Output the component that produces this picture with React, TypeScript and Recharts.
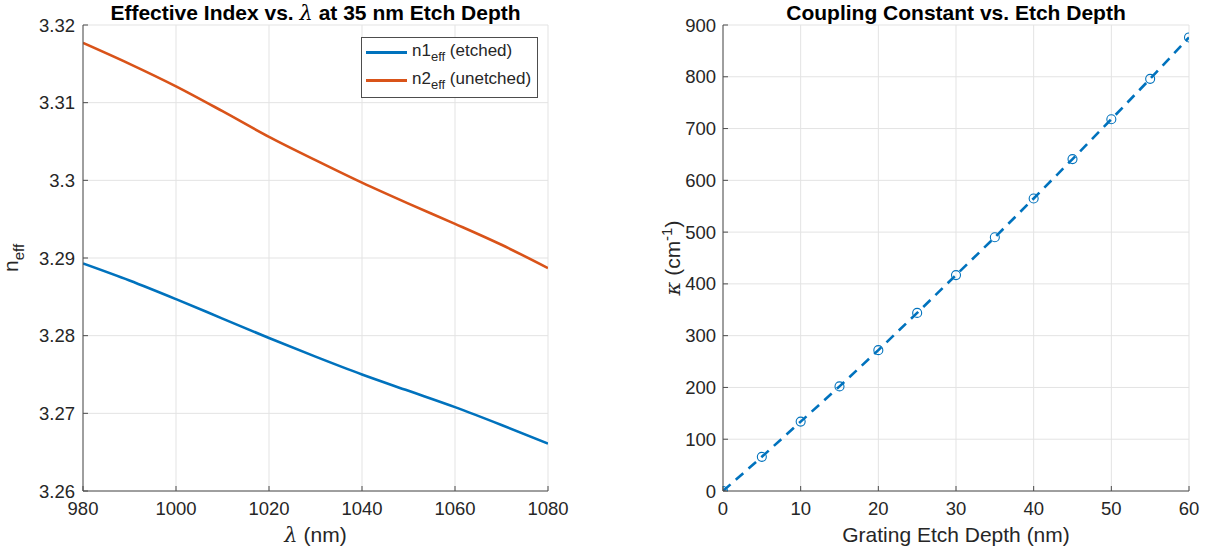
import React from "react";
import { LineChart, Line, XAxis, YAxis, CartesianGrid, Label } from "recharts";

// left panel: effective index vs wavelength (35 nm etch)
const wavelengths = [980, 990, 1000, 1010, 1020, 1030, 1040, 1050, 1060, 1070, 1080];
const n1Etched = [3.2893, 3.2871, 3.2847, 3.2822, 3.2797, 3.2773, 3.2750, 3.2729, 3.2708, 3.2685, 3.2661];
const n2Unetched = [3.3177, 3.3150, 3.3121, 3.3089, 3.3056, 3.3026, 3.2997, 3.2970, 3.2944, 3.2917, 3.2887];
const lambdaTicks = [980, 1000, 1020, 1040, 1060, 1080];
const neffTicks = [3.26, 3.27, 3.28, 3.29, 3.3, 3.31, 3.32];

// right panel: coupling constant vs etch depth
const etchDepths = [0, 5, 10, 15, 20, 25, 30, 35, 40, 45, 50, 55, 60];
const kappaValues = [0, 66, 134, 202, 272, 344, 417, 490, 565, 641, 718, 796, 876];
const depthTicks = [0, 10, 20, 30, 40, 50, 60];
const kappaTicks = [0, 100, 200, 300, 400, 500, 600, 700, 800, 900];

const BLUE = "#0072BD";
const ORANGE = "#D95319";
const AXIS = "#4d4d4d";
const TEXT = "#262626";
const GRID = "#e3e3e3";
const FONT = "'Liberation Sans', Arial, Helvetica, sans-serif";
const MATH = "'DejaVu Serif', 'Liberation Serif', serif";

const indexData = wavelengths.map((w, i) => ({ w, n1: n1Etched[i], n2: n2Unetched[i] }));
const kappaData = etchDepths.map((d, i) => ({ d, k: kappaValues[i] }));

const tickStyle = { fill: TEXT, fontSize: 18.5, fontFamily: FONT };

function OpenCircle(props: any) {
  const { cx, cy, index } = props;
  if (cx == null || cy == null) return null;
  return <circle key={`c-${index}`} cx={cx} cy={cy} r={4.5} fill="none" stroke={BLUE} strokeWidth={1.1} />;
}

const titleStyle: React.CSSProperties = {
  position: "absolute",
  top: 1,
  textAlign: "center",
  fontWeight: "bold",
  fontSize: 21,
  color: "#000",
  whiteSpace: "nowrap",
  lineHeight: "24px",
};

export default function App() {
  return (
    <div style={{ position: "absolute", left: 0, top: 0, width: 1207, height: 552, background: "#fff", fontFamily: FONT }}>
      {/* Left panel */}
      <div style={{ position: "absolute", left: 0, top: 0 }}>
        <LineChart width={600} height={552} data={indexData} margin={{ top: 25, right: 52, bottom: 0, left: 0 }}>
          <CartesianGrid stroke={GRID} strokeWidth={1} />
          <XAxis
            dataKey="w"
            type="number"
            domain={[980, 1080]}
            ticks={lambdaTicks}
            height={61}
            stroke={AXIS}
            tickSize={-5}
            tickMargin={16}
            tick={tickStyle}
            allowDataOverflow
          >
            <Label
              content={({ viewBox }: any) => (
                <text x={viewBox.x + viewBox.width / 2} y={542} textAnchor="middle" fill={TEXT} fontSize={21} fontFamily={FONT}>
                  <tspan fontFamily={MATH} fontStyle="italic">λ</tspan>
                  <tspan> (nm)</tspan>
                </text>
              )}
            />
          </XAxis>
          <XAxis
            xAxisId="top"
            orientation="top"
            type="number"
            domain={[980, 1080]}
            ticks={lambdaTicks}
            height={0}
            stroke={AXIS}
            tickSize={-5}
            tickFormatter={() => ""}
            allowDataOverflow
          />
          <YAxis
            type="number"
            domain={[3.26, 3.32]}
            ticks={neffTicks}
            width={83}
            stroke={AXIS}
            tickSize={-5}
            tickMargin={13}
            tick={tickStyle}
            tickFormatter={(v: number) => String(Number(v.toFixed(2)))}
            allowDataOverflow
          >
            <Label
              content={({ viewBox }: any) => {
                const cy = viewBox.y + viewBox.height / 2;
                return (
                  <text transform={`translate(18, ${cy}) rotate(-90)`} textAnchor="middle" fill={TEXT} fontSize={21} fontFamily={FONT}>
                    <tspan>n</tspan>
                    <tspan fontSize={15} dy={6}>eff</tspan>
                  </text>
                );
              }}
            />
          </YAxis>
          <YAxis
            yAxisId="right"
            orientation="right"
            type="number"
            domain={[3.26, 3.32]}
            ticks={neffTicks}
            width={0}
            stroke={AXIS}
            tickSize={-5}
            tickFormatter={() => ""}
            allowDataOverflow
          />
          <Line dataKey="n1" stroke={BLUE} strokeWidth={2.6} dot={false} isAnimationActive={false} type="monotone" />
          <Line dataKey="n2" stroke={ORANGE} strokeWidth={2.6} dot={false} isAnimationActive={false} type="monotone" />
        </LineChart>
        <div style={{ ...titleStyle, left: 83, width: 465 }}>
          Effective Index vs. <span style={{ fontFamily: MATH, fontStyle: "italic", fontWeight: "normal" }}>λ</span> at 35 nm Etch Depth
        </div>
        {/* legend */}
        <div
          style={{
            position: "absolute",
            left: 361,
            top: 37,
            width: 177,
            height: 61,
            border: `1px solid ${AXIS}`,
            background: "#fff",
            boxSizing: "border-box",
            color: TEXT,
            fontSize: 17,
          }}
        >
          {[
            { name: "n1", note: " (etched)", color: BLUE },
            { name: "n2", note: " (unetched)", color: ORANGE },
          ].map((item, i) => (
            <div key={i} style={{ position: "absolute", left: 4, top: 4 + i * 28, display: "flex", alignItems: "center", height: 21, whiteSpace: "nowrap" }}>
              <div style={{ width: 41, height: 2.6, background: item.color, marginRight: 5 }} />
              <span>
                {item.name}
                <sub style={{ fontSize: 13, verticalAlign: "-5px" }}>eff</sub>
                {item.note}
              </span>
            </div>
          ))}
        </div>
      </div>

      {/* Right panel */}
      <div style={{ position: "absolute", left: 620, top: 0 }}>
        <LineChart width={587} height={552} data={kappaData} margin={{ top: 25, right: 18, bottom: 0, left: 30 }}>
          <CartesianGrid stroke={GRID} strokeWidth={1} />
          <XAxis
            dataKey="d"
            type="number"
            domain={[0, 60]}
            ticks={depthTicks}
            height={61}
            stroke={AXIS}
            tickSize={-5}
            tickMargin={16}
            tick={tickStyle}
            allowDataOverflow
          >
            <Label
              content={({ viewBox }: any) => (
                <text x={viewBox.x + viewBox.width / 2} y={542} textAnchor="middle" fill={TEXT} fontSize={21} fontFamily={FONT}>
                  Grating Etch Depth (nm)
                </text>
              )}
            />
          </XAxis>
          <XAxis
            xAxisId="top"
            orientation="top"
            type="number"
            domain={[0, 60]}
            ticks={depthTicks}
            height={0}
            stroke={AXIS}
            tickSize={-5}
            tickFormatter={() => ""}
            allowDataOverflow
          />
          <YAxis
            type="number"
            domain={[0, 900]}
            ticks={kappaTicks}
            width={73}
            stroke={AXIS}
            tickSize={-5}
            tickMargin={12}
            tick={tickStyle}
            allowDataOverflow
          >
            <Label
              content={({ viewBox }: any) => {
                const cy = viewBox.y + viewBox.height / 2;
                return (
                  <text transform={`translate(60, ${cy}) rotate(-90)`} textAnchor="middle" fill={TEXT} fontSize={21} fontFamily={FONT}>
                    <tspan fontFamily={MATH} fontStyle="italic">κ</tspan>
                    <tspan> (cm</tspan>
                    <tspan fontSize={15} dy={-8}>-1</tspan>
                    <tspan dy={8}>)</tspan>
                  </text>
                );
              }}
            />
          </YAxis>
          <YAxis
            yAxisId="right"
            orientation="right"
            type="number"
            domain={[0, 900]}
            ticks={kappaTicks}
            width={0}
            stroke={AXIS}
            tickSize={-5}
            tickFormatter={() => ""}
            allowDataOverflow
          />
          <Line
            dataKey="k"
            stroke={BLUE}
            strokeWidth={2.6}
            strokeDasharray="10 7"
            dot={<OpenCircle />}
            isAnimationActive={false}
            type="linear"
          />
        </LineChart>
        <div style={{ ...titleStyle, left: 103, width: 466 }}>Coupling Constant vs. Etch Depth</div>
      </div>
    </div>
  );
}
